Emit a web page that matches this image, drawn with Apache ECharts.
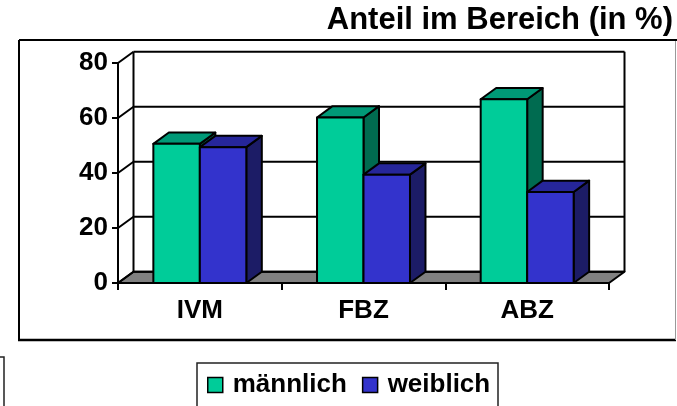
<!DOCTYPE html>
<html><head><meta charset="utf-8">
<script src="https://cdn.jsdelivr.net/npm/echarts@6/dist/echarts.min.js"></script>
<style>html,body{margin:0;padding:0;background:#fff}#c{width:677px;height:406px}</style>
</head><body><div id="c"></div>
<script>
// ---- data ----
const categories = ['IVM', 'FBZ', 'ABZ'];
const maennlich = [50.6, 60.2, 66.8];
const weiblich = [49.4, 39.4, 33.1];
const yTicks = [0, 20, 40, 60, 80];
const seriesNames = ['männlich', 'weiblich'];
const titleText = 'Anteil im Bereich (in %)';

// ---- style ----
const DX = 15.5, DY = -11.3;
const FONT = '"Liberation Sans", Arial, sans-serif';
const BAR_W = 0.284;
const palette = [
  {front: '#00CC99', top: '#009977', side: '#006B50'},
  {front: '#3333CC', top: '#26269A', side: '#1C1C66'}
];
const LW = 2;

function barRenderer(leftOffset, c) {
  return function (params, api) {
    const idx = api.value(0), val = api.value(1);
    const band = api.size([1, 0])[0];
    const pt = api.coord([idx, val]);
    const pb = api.coord([idx, 0]);
    const w = band * BAR_W;
    const x0 = pt[0] + leftOffset * w;
    const yt = pt[1], yb = pb[1];
    const st = {stroke: '#000', lineWidth: LW, lineJoin: 'round'};
    return {
      type: 'group',
      children: [
        {type: 'polygon', shape: {points: [[x0 + w, yt], [x0 + w + DX, yt + DY], [x0 + w + DX, yb + DY], [x0 + w, yb]]},
          style: Object.assign({fill: c.side}, st)},
        {type: 'polygon', shape: {points: [[x0, yt], [x0 + w, yt], [x0 + w + DX, yt + DY], [x0 + DX, yt + DY]]},
          style: Object.assign({fill: c.top}, st)},
        {type: 'rect', shape: {x: x0, y: yt, width: w, height: yb - yt},
          style: Object.assign({fill: c.front}, st)}
      ]
    };
  };
}

function frameRenderer(params, api) {
  const v = api.value(0);
  const cs = params.coordSys;
  const L = cs.x, R = cs.x + cs.width;
  const y = api.coord([0, v])[1];
  const st = {stroke: '#000', lineWidth: LW, fill: null};
  const children = [];
  if (v === yTicks[0]) {
    children.push({type: 'polygon', shape: {points: [[L, y], [R, y], [R + DX, y + DY], [L + DX, y + DY]]},
      style: {fill: '#808080', stroke: '#000', lineWidth: LW, lineJoin: 'round'}});
    const yTop = api.coord([0, yTicks[yTicks.length - 1]])[1];
    children.push({type: 'line', shape: {x1: L + DX, y1: yTop + DY, x2: L + DX, y2: y + DY}, style: st});
    children.push({type: 'line', shape: {x1: R + DX, y1: yTop + DY, x2: R + DX, y2: y + DY}, style: st});
  }
  children.push({type: 'line', shape: {x1: L, y1: y, x2: L + DX, y2: y + DY}, style: st});
  children.push({type: 'line', shape: {x1: L + DX, y1: y + DY, x2: R + DX, y2: y + DY}, style: st});
  return {type: 'group', children: children};
}

const chart = echarts.init(document.getElementById('c'), null, {renderer: 'canvas'});
chart.setOption({
  backgroundColor: '#fff',
  animation: false,
  title: {
    text: titleText, right: 4, top: 5, padding: 0,
    textStyle: {fontFamily: FONT, fontSize: 31, fontWeight: 'bold', color: '#000'}
  },
  legend: {
    data: seriesNames, left: 207, top: 372, padding: 0, itemGap: 15,
    icon: 'rect', itemWidth: 15, itemHeight: 15,
    itemStyle: {borderColor: '#000', borderWidth: 1.5},
    textStyle: {fontFamily: FONT, fontSize: 26, fontWeight: 'bold', color: '#000', padding: [0, 0, 0, 5]}
  },
  grid: {left: 118, top: 63, width: 491, height: 220, containLabel: false},
  xAxis: {
    type: 'category', data: categories, boundaryGap: true, z: 5,
    axisLine: {show: true, lineStyle: {color: '#000', width: LW}},
    axisTick: {show: true, length: 7, lineStyle: {color: '#000', width: LW}},
    axisLabel: {margin: 15, fontFamily: FONT, fontSize: 26, fontWeight: 'bold', color: '#000'},
    splitLine: {show: false}
  },
  yAxis: {
    type: 'value', min: 0, max: 80, interval: 20, z: 5,
    axisLine: {show: true, lineStyle: {color: '#000', width: LW}},
    axisTick: {show: true, length: 6, lineStyle: {color: '#000', width: LW}},
    axisLabel: {margin: 10, fontFamily: FONT, fontSize: 26, fontWeight: 'bold', color: '#000'},
    splitLine: {show: false}
  },
  graphic: [
    {type: 'line', shape: {x1: 19, y1: 40, x2: 677, y2: 40}, style: {stroke: '#000', lineWidth: 2}},
    {type: 'line', shape: {x1: 19, y1: 40, x2: 19, y2: 340}, style: {stroke: '#000', lineWidth: 2}},
    {type: 'line', shape: {x1: 18, y1: 340, x2: 676, y2: 340}, style: {stroke: '#000', lineWidth: 2.5}},
    {type: 'line', shape: {x1: 675.5, y1: 41, x2: 675.5, y2: 340}, style: {stroke: '#999', lineWidth: 1}},
    {type: 'polyline', shape: {points: [[197, 406], [197, 363], [498, 363], [498, 406]]}, style: {stroke: '#222', lineWidth: 1.5, fill: null}},
    {type: 'polyline', shape: {points: [[0, 357], [4, 357], [4, 406]]}, style: {stroke: '#222', lineWidth: 1.5, fill: null}}
  ],
  series: [
    {type: 'custom', name: 'frame', z: 1, silent: true, renderItem: frameRenderer,
      data: yTicks.map(v => [v]), encode: {y: 0}},
    {type: 'custom', name: seriesNames[0], z: 2, renderItem: barRenderer(-1, palette[0]),
      itemStyle: {color: palette[0].front}, encode: {x: 0, y: 1},
      data: categories.map((c, i) => [i, maennlich[i]])},
    {type: 'custom', name: seriesNames[1], z: 2, renderItem: barRenderer(0, palette[1]),
      itemStyle: {color: palette[1].front}, encode: {x: 0, y: 1},
      data: categories.map((c, i) => [i, weiblich[i]])}
  ]
});
</script>
</body></html>
